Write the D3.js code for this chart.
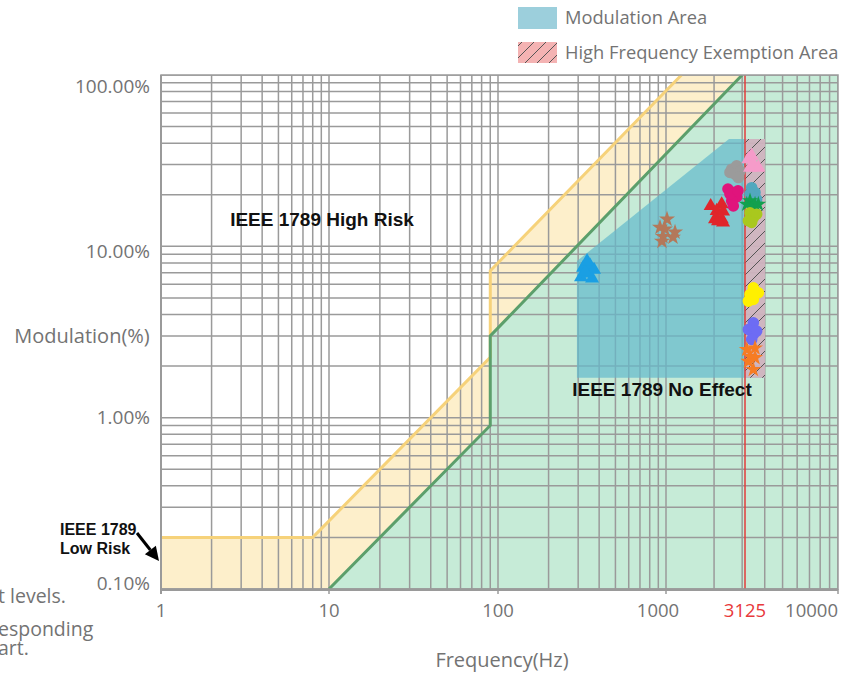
<!DOCTYPE html>
<html><head><meta charset="utf-8">
<script src="https://cdn.jsdelivr.net/npm/d3@7"></script>
<style>
body{margin:0;background:#fff;}
svg{display:block;font-family:"Open Sans","Noto Sans",sans-serif;}
</style></head>
<body><svg id="c" width="853" height="675"></svg>
<script>
// ---------- data ----------
const xTickValues = [1, 10, 100, 1000, 3125, 10000];
const xTickLabels = ["1", "10", "100", "1000", "3125", "10000"];
const yTickValues = [0.1, 1, 10, 100];
const yTickLabels = ["0.10%", "1.00%", "10.00%", "100.00%"];
// IEEE 1789 boundaries (frequency Hz, modulation %)
const lowRiskLine = [[1, 0.2], [8, 0.2], [90, 2.25], [90, 7.2], [1250, 100]];
const noEffectLine = [[10, 0.1], [90, 0.9], [90, 3.0], [3000, 100]];
const exemptionFreq = 3125;
// modulation area polygon
const modulationArea = [[295, 1.71], [295, 8.2], [2481, 42.3], [4014, 42.3], [4014, 1.71]];
// high frequency exemption area [f0, f1, m0, m1]
const exemptionArea = [3125, 4014, 1.71, 42.3];
// measured series
const seriesNames = ["blue", "brown", "red", "magenta", "gray", "pink", "teal", "green", "yellowgreen", "yellow", "purple", "orange"];
const seriesColors = ["#1a9fe3", "#b3785a", "#e0262b", "#e0147c", "#9b9b9b", "#f59bc9", "#52a8be", "#12a04e", "#a9c81e", "#fff000", "#6d6cf4", "#f67c23"];
const seriesShapes = ["triangle", "star", "triangle", "circle", "circle", "triangle", "circle", "star", "circle", "circle", "circle", "star"];
const blueData = [[312, 6.6], [343, 6.95], [363, 6.5], [321, 7.5], [353, 7.75], [373, 7.3], [339, 8.2], [330, 7.1]];
const brownData = [[1015, 14.4], [921, 12.9], [986, 12.6], [959, 11.4], [1139, 12.1], [1106, 11.3], [946, 10.7]];
const redData = [[1905, 17.2], [2233, 17.6], [2078, 16.1], [2276, 16.0], [2028, 14.4], [2233, 14.4], [2276, 13.8], [2117, 14.0]];
const magentaData = [[2640, 20.6], [2444, 21.6], [2773, 19.4], [2580, 18.4], [2640, 17.2], [2515, 20.2], [2826, 21.1]];
const grayData = [[2580, 28.2], [2773, 29.5], [2704, 26.4], [2911, 27.5], [2515, 27.0], [2839, 25.2]];
const pinkData = [[3260, 32.3], [3468, 30.2], [3693, 28.8], [3327, 28.8], [3397, 33.8]];
const tealData = [[3397, 22.0], [3543, 20.6], [3327, 20.2], [3617, 18.8]];
const greenData = [[3327, 18.4], [3196, 17.6], [3543, 17.6], [3397, 16.8], [3693, 17.6]];
const yellowGreenData = [[3327, 15.7], [3468, 14.7], [3260, 14.1], [3617, 15.4], [3397, 13.8]];
const yellowData = [[3468, 5.73], [3327, 5.24], [3693, 5.36], [3260, 4.79], [3468, 4.90]];
const purpleData = [[3468, 3.58], [3260, 3.27], [3468, 3.06], [3617, 3.20], [3397, 2.86]];
const orangeData = [[3196, 2.50], [3543, 2.55], [3327, 2.28], [3543, 2.24], [3260, 2.13], [3468, 1.91]];
const seriesData = [blueData, brownData, redData, magentaData, grayData, pinkData, tealData, greenData, yellowGreenData, yellowData, purpleData, orangeData];
const legendLabels = ["Modulation Area", "High Frequency Exemption Area"];
const regionLabels = ["IEEE 1789 High Risk", "IEEE 1789 No Effect"];

// ---------- layout ----------
const svg = d3.select("#c");
const L = 161, R = 838, T = 75, B = 589;
const x = d3.scaleLog().domain([1, 10, 100, 1000, 3125, 10000]).range([L, 329, 498, 666, 745, R]);
const y = d3.scaleLog().domain([0.1, 100]).range([B, T]);
const yLab = d3.scaleLog().domain([0.1, 100]).range([583, 86]);
const textGray = "#737373";

const defs = svg.append("defs");
defs.append("clipPath").attr("id", "plot").append("rect")
  .attr("x", L).attr("y", T).attr("width", R - L).attr("height", B - T);
const hp = defs.append("pattern").attr("id", "hatch").attr("patternUnits", "userSpaceOnUse")
  .attr("width", 12).attr("height", 12);
hp.append("path").attr("d", "M-3,3 L3,-3 M0,12 L12,0 M9,15 L15,9").attr("stroke", "#555").attr("stroke-width", 1);

const g = svg.append("g").attr("clip-path", "url(#plot)");
const line = d3.line().x(d => x(d[0])).y(d => y(d[1]));

// low-risk (yellow) region: below yellow boundary
const yPoly = [[1, 0.1]].concat(lowRiskLine, [[10000, 100], [10000, 0.1]]);
g.append("path").attr("d", line(yPoly) + "Z").attr("fill", "#fdefcb");
// no-effect (green) region
const gPoly = noEffectLine.concat([[10000, 100], [10000, 0.1]]);
g.append("path").attr("d", line(gPoly) + "Z").attr("fill", "#c6ebd7");

// grid
const gridX = [], gridY = [];
for (let p = 1; p <= 1000; p *= 10) for (let k = 1; k <= 9; k++) gridX.push(k * p);
gridX.push(10000);
for (let p = 0.1; p <= 10.0001; p *= 10) for (let k = 1; k <= 9; k++) gridY.push(k * p);
gridY.push(100);
g.selectAll(".gx").data(gridX).join("line")
  .attr("x1", d => x(d)).attr("x2", d => x(d)).attr("y1", T).attr("y2", B)
  .attr("stroke", "#9a9a9a").attr("stroke-width", 1.5);
g.selectAll(".gy").data(gridY).join("line")
  .attr("y1", d => y(d)).attr("y2", d => y(d)).attr("x1", L).attr("x2", R)
  .attr("stroke", "#9a9a9a").attr("stroke-width", 1.5);

// boundary lines
g.append("path").attr("d", line(lowRiskLine)).attr("fill", "none").attr("stroke", "#f6d27a").attr("stroke-width", 3);
g.append("path").attr("d", line(noEffectLine)).attr("fill", "none").attr("stroke", "#5c9f6b").attr("stroke-width", 3);

// modulation area
g.append("path").attr("d", line(modulationArea) + "Z").attr("fill", "#62b9cc").attr("opacity", 0.7);
// exemption area
const ex = { x: x(exemptionArea[0]), w: x(exemptionArea[1]) - x(exemptionArea[0]), y: y(exemptionArea[3]), h: y(exemptionArea[2]) - y(exemptionArea[3]) };
g.append("rect").attr("x", ex.x).attr("y", ex.y).attr("width", ex.w).attr("height", ex.h)
  .attr("fill", "#e2b2bc").attr("opacity", 0.8);
g.append("rect").attr("x", ex.x).attr("y", ex.y).attr("width", ex.w).attr("height", ex.h)
  .attr("fill", "url(#hatch)");

// red line
g.append("line").attr("x1", x(exemptionFreq)).attr("x2", x(exemptionFreq)).attr("y1", T).attr("y2", B)
  .attr("stroke", "#e23b3b").attr("stroke-width", 1.5);

// points
const shapeMap = { triangle: d3.symbolTriangle, star: d3.symbolStar, circle: d3.symbolCircle };
const sizeMap = { triangle: 85, star: 80, circle: 105 };
seriesData.forEach((data, i) => {
  const sym = d3.symbol().type(shapeMap[seriesShapes[i]]).size(sizeMap[seriesShapes[i]]);
  g.append("g").attr("class", "s-" + seriesNames[i]).selectAll("path").data(data).join("path")
    .attr("transform", d => `translate(${x(d[0])},${y(d[1])})`)
    .attr("d", sym()).attr("fill", seriesColors[i]);
});

// axes frame
svg.append("rect").attr("x", L).attr("y", T).attr("width", R - L).attr("height", B - T)
  .attr("fill", "none").attr("stroke", "#9a9a9a").attr("stroke-width", 1.5);
svg.append("line").attr("x1", L).attr("x2", R).attr("y1", B + 1).attr("y2", B + 1).attr("stroke", "#9a9a9a").attr("stroke-width", 2);
svg.append("line").attr("x1", L).attr("x2", L).attr("y1", T).attr("y2", B + 5).attr("stroke", "#9a9a9a").attr("stroke-width", 2);
svg.selectAll(".xt").data(xTickValues.filter(v => v !== exemptionFreq)).join("line")
  .attr("x1", d => x(d)).attr("x2", d => x(d)).attr("y1", B).attr("y2", B + 5).attr("stroke", "#9a9a9a").attr("stroke-width", 1.5);

// tick labels
const xLabDx = [0, 0, 0, -8, 0, 0];
const xLabAnchor = ["middle", "middle", "middle", "middle", "middle", "end"];
svg.selectAll(".xl").data(xTickValues).join("text")
  .attr("x", (d, i) => x(d) + xLabDx[i]).attr("y", 617)
  .attr("text-anchor", (d, i) => xLabAnchor[i])
  .attr("font-size", 18.5).attr("fill", d => d === exemptionFreq ? "#e8393b" : textGray)
  .text((d, i) => xTickLabels[i]);
svg.selectAll(".yl").data(yTickValues).join("text")
  .attr("x", 150).attr("y", d => yLab(d)).attr("dy", "0.35em")
  .attr("text-anchor", "end").attr("font-size", 19).attr("fill", textGray)
  .text((d, i) => yTickLabels[i]);

// axis titles
svg.append("text").attr("x", 82).attr("y", 336).attr("dy", "0.35em").attr("text-anchor", "middle")
  .attr("font-size", 20).attr("fill", textGray).text("Modulation(%)");
svg.append("text").attr("x", 502).attr("y", 660).attr("dy", "0.35em").attr("text-anchor", "middle")
  .attr("font-size", 20).attr("fill", textGray).text("Frequency(Hz)");

// region labels
svg.append("text").attr("x", 322).attr("y", 226).attr("text-anchor", "middle")
  .attr("font-family", "Liberation Sans, Arial, sans-serif").attr("font-weight", "bold").attr("font-size", 19)
  .attr("fill", "#111").text(regionLabels[0]);
svg.append("text").attr("x", 662).attr("y", 396).attr("text-anchor", "middle")
  .attr("font-family", "Liberation Sans, Arial, sans-serif").attr("font-weight", "bold").attr("font-size", 19)
  .attr("fill", "#111").text(regionLabels[1]);
const low = svg.append("text").attr("font-family", "Liberation Sans, Arial, sans-serif").attr("font-weight", "bold")
  .attr("font-size", 16).attr("fill", "#111");
low.append("tspan").attr("x", 60).attr("y", 535).text("IEEE 1789");
low.append("tspan").attr("x", 60).attr("y", 554).text("Low Risk");
// arrow: shaft + filled head
const a0 = [137, 533], a1 = [159, 561];
const ang = Math.atan2(a1[1] - a0[1], a1[0] - a0[0]);
const hl = 14, hw = 7;
const base = [a1[0] - hl * Math.cos(ang), a1[1] - hl * Math.sin(ang)];
svg.append("line").attr("x1", a0[0]).attr("y1", a0[1]).attr("x2", base[0]).attr("y2", base[1])
  .attr("stroke", "#000").attr("stroke-width", 3);
svg.append("path").attr("fill", "#000").attr("d",
  `M${a1[0]},${a1[1]} L${base[0] - hw * Math.sin(ang)},${base[1] + hw * Math.cos(ang)} L${base[0] + hw * Math.sin(ang)},${base[1] - hw * Math.cos(ang)} Z`);

// cut-off note text at left edge
svg.append("text").attr("x", -2).attr("y", 603).attr("font-size", 19.5).attr("fill", textGray).text("t levels.");
svg.append("text").attr("x", -2).attr("y", 636).attr("font-size", 19.5).attr("fill", textGray).text("esponding");
svg.append("text").attr("x", -2).attr("y", 655).attr("font-size", 19.5).attr("fill", textGray).text("art.");

// legend
const lg = svg.append("g");
lg.append("rect").attr("x", 518).attr("y", 7).attr("width", 39).attr("height", 22).attr("fill", "#9ccfdc");
lg.append("rect").attr("x", 518).attr("y", 42).attr("width", 39).attr("height", 21).attr("fill", "#f4b3b3");
lg.append("rect").attr("x", 518).attr("y", 42).attr("width", 39).attr("height", 21).attr("fill", "url(#hatch)");
lg.selectAll(".lt").data(legendLabels).join("text")
  .attr("x", 565).attr("y", (d, i) => 18 + i * 35).attr("dy", "0.35em")
  .attr("font-size", 18.3).attr("fill", textGray).text(d => d);
</script></body></html>
